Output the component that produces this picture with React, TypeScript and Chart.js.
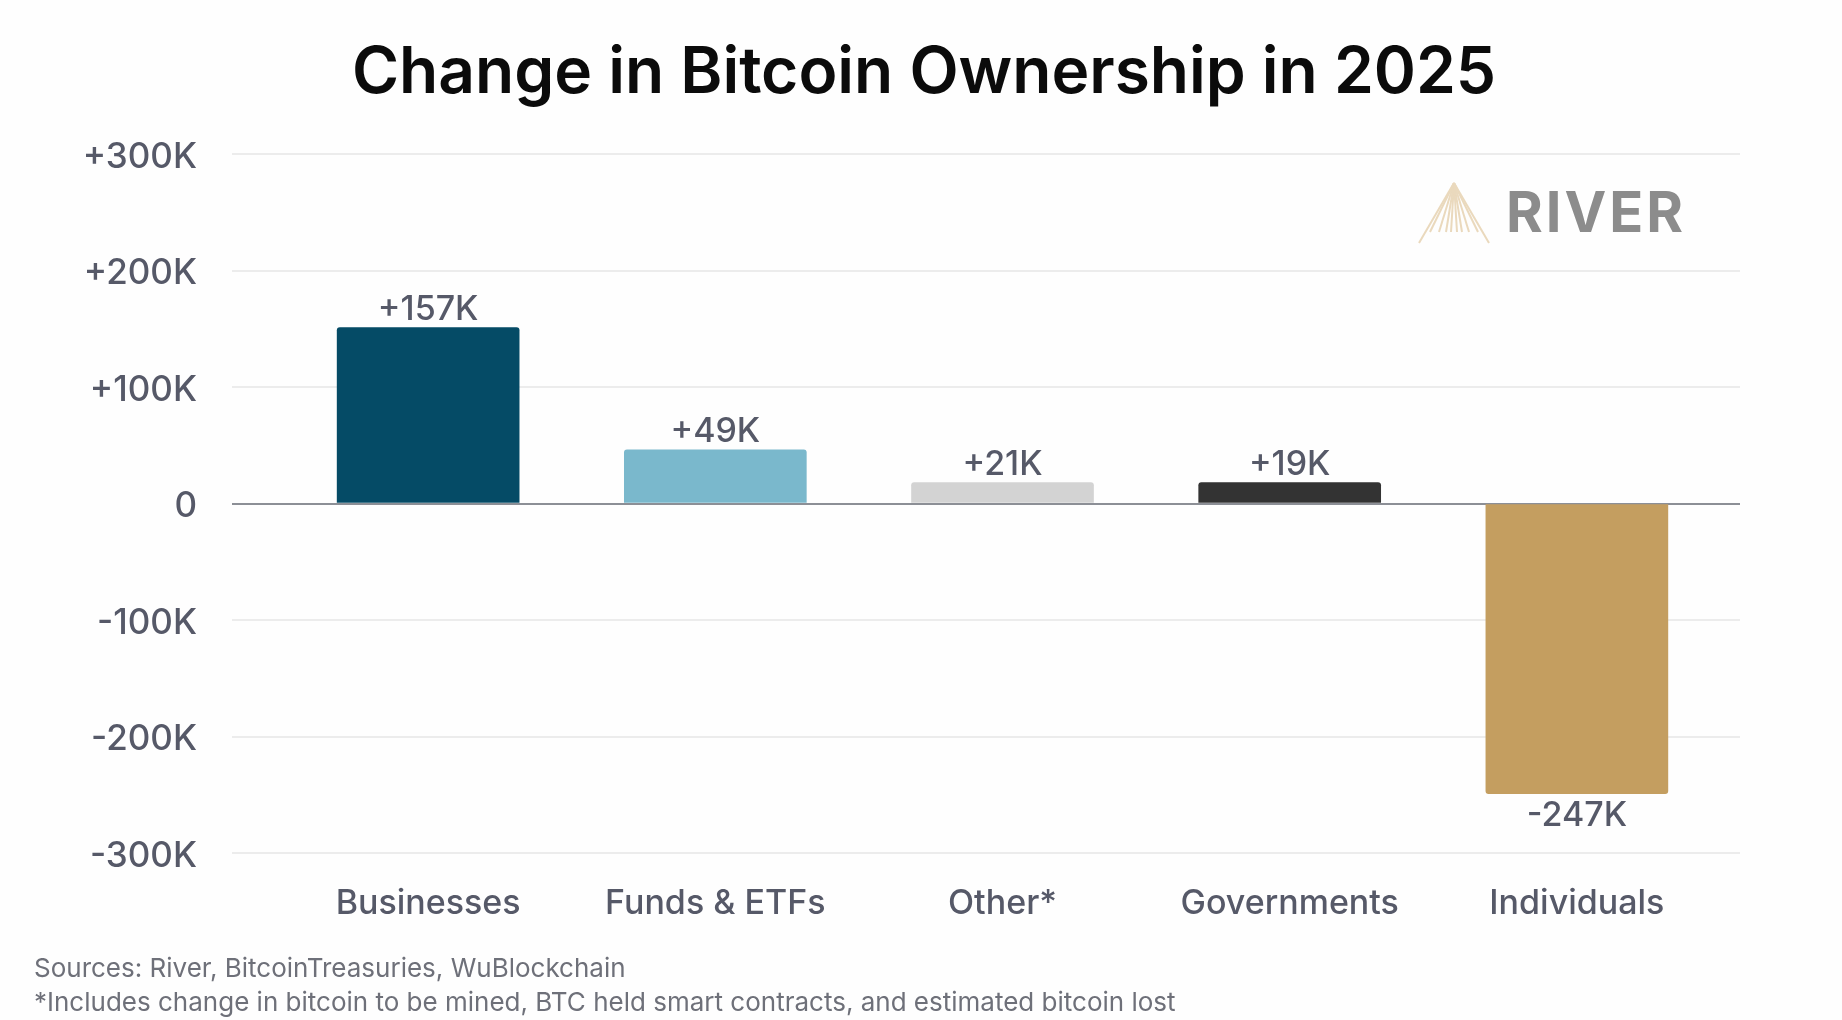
import React, { useEffect, useRef } from "react";
import { Chart, registerables } from "chart.js";

Chart.register(...registerables);

const TITLE = "Change in Bitcoin Ownership in 2025";
const categories = ["Businesses", "Funds & ETFs", "Other*", "Governments", "Individuals"];
// bar heights as drawn in the picture, measured against the gridlines
const barValues = [151, 46, 18, 18, -249];
// values as printed above the bars (the source bars don't quite match them)
const valueLabels = ["+157K", "+49K", "+21K", "+19K", "-247K"];
const barColors = ["#054b66", "#7ab8cc", "#d3d3d3", "#333333", "#c49e60"];
const footnotes = [
  "Sources: River, BitcoinTreasuries, WuBlockchain",
  "*Includes change in bitcoin to be mined, BTC held smart contracts, and estimated bitcoin lost",
];

const FONT = "Inter";
const LABEL_COLOR = "#565968";

// title, footnotes, value labels and the logo
const textPlugin = {
  id: "chartText",
  afterDatasetsDraw(chart: Chart) {
    const { ctx } = chart;
    ctx.save();

    ctx.fillStyle = "#0b0b0b";
    ctx.font = `600 64px ${FONT}`;
    ctx.textAlign = "center";
    ctx.textBaseline = "middle";
    ctx.fillText(TITLE, 924, 74);

    // value labels sit just off the end of each bar
    ctx.font = `500 34px ${FONT}`;
    ctx.fillStyle = LABEL_COLOR;
    chart.getDatasetMeta(0).data.forEach((bar, i) => {
      const gap = barValues[i] < 0 ? 22 : -18;
      ctx.fillText(valueLabels[i], bar.x, bar.y + gap);
    });

    ctx.font = `400 26px ${FONT}`;
    ctx.fillStyle = "#6e7079";
    ctx.textAlign = "left";
    footnotes.forEach((line, i) => ctx.fillText(line, 34, 969 + i * 34));

    // RIVER logo
    ctx.strokeStyle = "#ead9bd";
    ctx.lineWidth = 2;
    [-35, -24, -15, -8, -3, 3, 8, 15, 24, 35].forEach((dx) => {
      ctx.beginPath();
      ctx.moveTo(1454, 183);
      ctx.lineTo(1454 + dx, Math.abs(dx) > 30 ? 243 : 232);
      ctx.stroke();
    });
    ctx.font = `700 56px ${FONT}`;
    ctx.fillStyle = "#8c8c8c";
    ctx.textAlign = "left";
    ctx.letterSpacing = "3px";
    ctx.fillText("RIVER", 1506, 215);

    ctx.restore();
  },
};

export default function App() {
  const canvasRef = useRef<HTMLCanvasElement>(null);

  useEffect(() => {
    if (!canvasRef.current) return;

    const chart = new Chart(canvasRef.current, {
      type: "bar",
      data: {
        datasets: [
          {
            data: categories.map((_, i) => ({ x: i, y: barValues[i] })),
            backgroundColor: barColors,
            barThickness: 182,
            borderRadius: 3,
          },
        ],
      },
      options: {
        animation: false,
        responsive: false,
        layout: { padding: { top: 154, left: 0, right: 102, bottom: 0 } },
        scales: {
          x: {
            type: "linear",
            offset: false,
            min: -0.683,
            max: 4.568,
            grid: { display: false },
            border: { display: false },
            afterBuildTicks: (axis) => {
              axis.ticks = categories.map((_, i) => ({ value: i }));
            },
            afterFit: (axis) => {
              axis.height = 167;
            },
            ticks: {
              autoSkip: false,
              maxRotation: 0,
              padding: 22,
              color: LABEL_COLOR,
              font: { family: FONT, size: 34, weight: 500 },
              callback: (v) => categories[Number(v)],
            },
          },
          y: {
            min: -300,
            max: 300,
            border: { display: false },
            grid: {
              drawTicks: false,
              lineWidth: 2,
              color: (c) => (c.tick.value === 0 ? "#8c8f96" : "#ececec"),
            },
            afterFit: (axis) => {
              axis.width = 232;
            },
            ticks: {
              stepSize: 100,
              padding: 35,
              labelOffset: 3,
              color: LABEL_COLOR,
              font: { family: FONT, size: 35, weight: 500 },
              callback: (v) => {
                const n = Number(v);
                if (n === 0) return "0";
                return `${n > 0 ? "+" : ""}${n}K`;
              },
            },
          },
        },
        plugins: {
          legend: { display: false },
          tooltip: { enabled: false },
        },
      },
      plugins: [textPlugin],
    });

    return () => chart.destroy();
  }, []);

  return (
    <div style={{ position: "fixed", left: 0, top: 0, width: 1842, height: 1020, background: "#fefefe" }}>
      <canvas ref={canvasRef} width={1842} height={1020} style={{ display: "block" }} />
    </div>
  );
}
